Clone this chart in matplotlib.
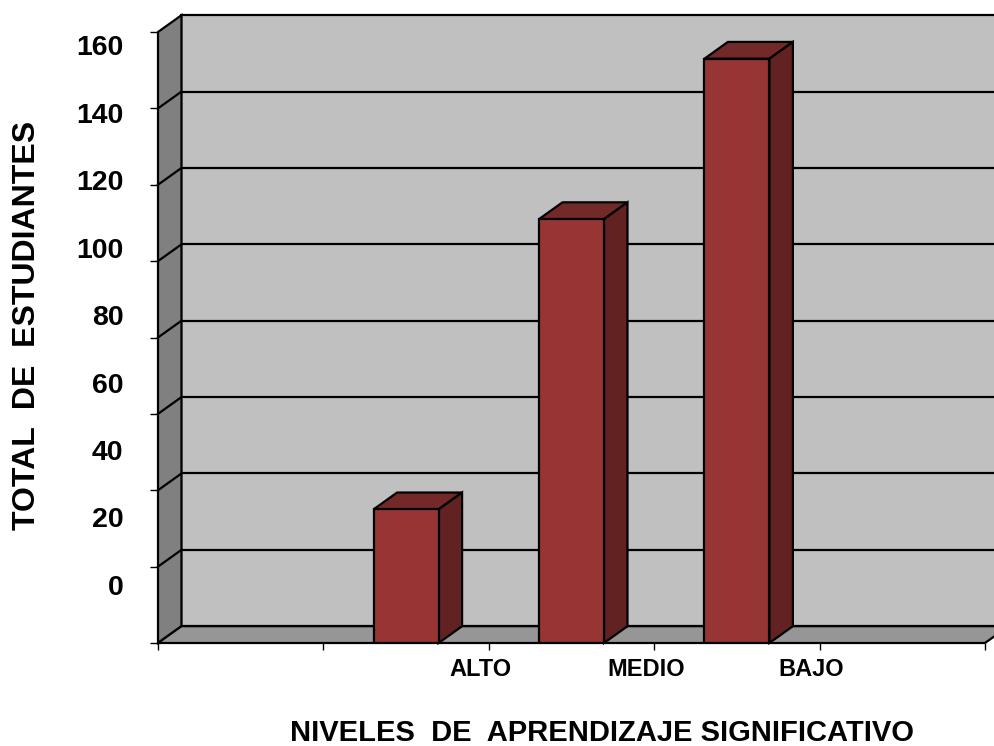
import matplotlib
matplotlib.use("Agg")
import matplotlib.pyplot as plt
from matplotlib.patches import Polygon
import numpy as np

plt.rcParams['font.family'] = ['Liberation Sans', 'DejaVu Sans']
plt.rcParams['font.weight'] = 'bold'

# data
categories = ['ALTO', 'MEDIO', 'BAJO']
estudiantes = [35, 111, 153]
y_ticks = [0, 20, 40, 60, 80, 100, 120, 140, 160]
n_slots = 5

# pseudo 3d depth offset (data units)
DX = 0.142
DY = 4.4
YMAX = y_ticks[-1]
BAR_W = 0.393

WALL = '#C0C0C0'
SIDE_WALL = '#808080'
FLOOR = '#969696'
BAR_FRONT = '#973535'
BAR_TOP = '#742929'
BAR_SIDE = '#622222'
LW = 1.6


def generate_chart(output_path):
    fig = plt.figure(figsize=(9.94, 7.46), dpi=100)
    ax = fig.add_axes([158 / 994, 103 / 746, 827 / 994, 611 / 746])
    ax.set_xlim(0, n_slots)
    ax.set_ylim(0, YMAX)
    ax.patch.set_visible(False)
    for s in ax.spines.values():
        s.set_visible(False)

    # back wall
    ax.add_patch(Polygon([(DX, DY), (n_slots + DX, DY), (n_slots + DX, YMAX + DY),
                          (DX, YMAX + DY)], closed=True, facecolor=WALL,
                         edgecolor='black', lw=LW, zorder=1, clip_on=False))
    # left wall
    ax.add_patch(Polygon([(0, 0), (DX, DY), (DX, YMAX + DY), (0, YMAX)], closed=True,
                         facecolor=SIDE_WALL, edgecolor='black', lw=LW, zorder=2,
                         clip_on=False))
    # gridlines on the walls
    for v in y_ticks[1:-1]:
        ax.plot([DX, n_slots + DX], [v + DY, v + DY], color='black', lw=LW,
                zorder=2, clip_on=False, solid_capstyle='butt')
        ax.plot([0, DX], [v, v + DY], color='black', lw=LW, zorder=2, clip_on=False)
    # floor
    ax.add_patch(Polygon([(0, 0), (n_slots, 0), (n_slots + DX, DY), (DX, DY)], closed=True,
                         facecolor=FLOOR, edgecolor='black', lw=LW, zorder=3,
                         clip_on=False))

    # bars
    pos = np.arange(len(categories)) + 1.5
    ax.bar(pos, estudiantes, width=BAR_W, color=BAR_FRONT, edgecolor='black',
           lw=LW, zorder=6)
    for x, v in zip(pos, estudiantes):
        x0, x1 = x - BAR_W / 2, x + BAR_W / 2
        ax.add_patch(Polygon([(x0, v), (x0 + DX, v + DY), (x1 + DX, v + DY), (x1, v)],
                             closed=True, facecolor=BAR_TOP, edgecolor='black',
                             lw=LW, zorder=5, clip_on=False))
        ax.add_patch(Polygon([(x1, 0), (x1 + DX, DY), (x1 + DX, v + DY), (x1, v)],
                             closed=True, facecolor=BAR_SIDE, edgecolor='black',
                             lw=LW, zorder=5, clip_on=False))

    # y axis: tick marks on the front edge, labels set a bit tighter
    ax.set_yticks(y_ticks)
    ax.tick_params(axis='y', which='major', length=5.5, width=1, labelleft=False)
    label_pos = 15.2 + np.array(y_ticks) * 0.8835
    ax.set_yticks(label_pos, minor=True)
    ax.set_yticklabels([str(v) for v in y_ticks], minor=True)
    ax.tick_params(axis='y', which='minor', length=0, pad=25, labelsize=20.5)

    # x axis
    ax.set_xticks(np.arange(n_slots + 1))
    ax.tick_params(axis='x', which='major', length=5, width=1, labelbottom=False)
    ax.set_xticks(pos + 0.45, minor=True)
    ax.set_xticklabels(categories, minor=True)
    ax.tick_params(axis='x', which='minor', length=0, pad=11, labelsize=17)

    ax.set_xlabel('NIVELES  DE  APRENDIZAJE SIGNIFICATIVO', fontsize=21,
                  fontweight='bold', va='center')
    ax.xaxis.set_label_coords(0.537, -0.147)
    ax.set_ylabel('TOTAL  DE  ESTUDIANTES', fontsize=23, fontweight='bold',
                  va='center')
    ax.yaxis.set_label_coords(-0.158, 0.519)

    fig.savefig(output_path, dpi=100)


if __name__ == "__main__":
    generate_chart("out.png")
